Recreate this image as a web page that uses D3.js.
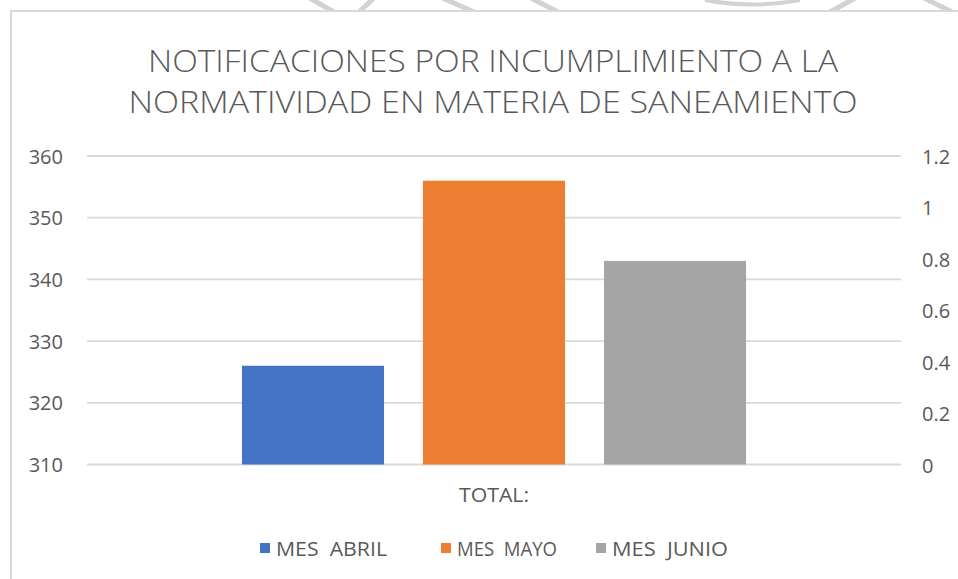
<!DOCTYPE html>
<html>
<head>
<meta charset="utf-8">
<script src="https://cdn.jsdelivr.net/npm/d3@7"></script>
<style>
  html, body { margin: 0; padding: 0; background: #fff; }
  svg { display: block; }
  text { font-family: "Open Sans", "Liberation Sans", sans-serif; fill: #595959; }
</style>
</head>
<body>
<svg id="chart" width="958" height="579"></svg>
<script>
// ---- data ----
const categories = ["TOTAL:"];
const seriesNames = ["MES  ABRIL", "MES  MAYO", "MES  JUNIO"];
const seriesValues = [326, 356, 343];
const seriesColors = ["#4472C4", "#ED7D31", "#A5A5A5"];
const leftTicks = [310, 320, 330, 340, 350, 360];
const rightTicks = [0, 0.2, 0.4, 0.6, 0.8, 1, 1.2];
const titleLines = ["NOTIFICACIONES POR INCUMPLIMIENTO A LA", "NORMATIVIDAD EN MATERIA DE SANEAMIENTO"];

const svg = d3.select("#chart");
const W = 958, H = 579;
const plot = { left: 87, right: 901, top: 156, bottom: 464.5 };

// faint watermark strokes above the chart frame
const marks = [
  [[306, -4], [334, 12]], [[376, -4], [359, 12]], [[438, -4], [474, 12]],
  [[527, -4], [558, 12]], [[859, -4], [830, 12]], [[920, -4], [952, 12]]
];
svg.append("g").selectAll("line").data(marks).join("line")
  .attr("x1", d => d[0][0]).attr("y1", d => d[0][1])
  .attr("x2", d => d[1][0]).attr("y2", d => d[1][1])
  .attr("stroke", "#d2d2d2").attr("stroke-width", 5);
svg.append("path")
  .attr("d", "M705,0 Q752,9 800,0")
  .attr("fill", "none").attr("stroke", "#d2d2d2").attr("stroke-width", 4);
svg.append("rect").attr("x", 0).attr("y", 10).attr("width", W).attr("height", H).attr("fill", "#fff");

// frame
svg.append("rect")
  .attr("x", 11).attr("y", 11).attr("width", W + 10).attr("height", H + 10)
  .attr("fill", "#fff").attr("stroke", "#d9d9d9").attr("stroke-width", 2);

// scales
const yL = d3.scaleLinear().domain([310, 360]).range([plot.bottom, plot.top]);
const yR = d3.scaleLinear().domain([0, 1.2]).range([plot.bottom + 0.5, plot.top + 0.5]);
const x0 = d3.scaleBand().domain(categories).range([plot.left, plot.right]);
const x1 = d3.scaleBand().domain(seriesNames).range([0, x0.bandwidth()])
  .paddingInner(0.215).paddingOuter(0.856);

// gridlines
svg.append("g").selectAll("line").data(leftTicks).join("line")
  .attr("x1", plot.left).attr("x2", plot.right)
  .attr("y1", d => yL(d)).attr("y2", d => yL(d))
  .attr("stroke", "#d9d9d9").attr("stroke-width", 1.8);

// left axis
const axL = svg.append("g").attr("transform", `translate(${63},0)`)
  .call(d3.axisLeft(yL).tickValues(leftTicks).tickSize(0).tickPadding(0).tickFormat(d3.format("d")));
axL.select(".domain").remove();
axL.selectAll("text").attr("font-size", 20).attr("fill", "#595959")
  .attr("font-family", "'Open Sans', sans-serif").attr("dy", "0.35em");

// right axis
const axR = svg.append("g").attr("transform", `translate(${922},0)`)
  .call(d3.axisRight(yR).tickValues(rightTicks).tickSize(0).tickPadding(0).tickFormat(d => String(+d.toFixed(1))));
axR.select(".domain").remove();
axR.selectAll("text").attr("font-size", 20).attr("fill", "#595959")
  .attr("font-family", "'Open Sans', sans-serif").attr("dy", "0.35em");

// bars
const gCat = svg.append("g").selectAll("g").data(categories).join("g")
  .attr("transform", d => `translate(${x0(d)},0)`);
gCat.selectAll("rect").data(seriesNames.map((s, i) => ({ s, v: seriesValues[i], c: seriesColors[i] })))
  .join("rect")
  .attr("x", d => x1(d.s)).attr("width", x1.bandwidth())
  .attr("y", d => yL(d.v)).attr("height", d => yL(310) - yL(d.v))
  .attr("fill", d => d.c);

// category label
svg.append("g").selectAll("text").data(categories).join("text")
  .attr("x", d => x0(d) + x0.bandwidth() / 2)
  .attr("y", 502).attr("text-anchor", "middle").attr("font-size", 20)
  .attr("textLength", 70).attr("lengthAdjust", "spacingAndGlyphs")
  .text(d => d);

// title
const titleW = [690, 729];
svg.append("g").selectAll("text").data(titleLines).join("text")
  .attr("x", 493).attr("y", (d, i) => 72 + i * 41)
  .attr("text-anchor", "middle").attr("font-size", 32).attr("font-weight", 300)
  .attr("textLength", (d, i) => titleW[i]).attr("lengthAdjust", "spacingAndGlyphs")
  .style("white-space", "pre")
  .text(d => d);

// legend
const legX = [260, 441, 596];
const legW = [111, 100, 116];
const leg = svg.append("g").selectAll("g").data(seriesNames).join("g")
  .attr("transform", (d, i) => `translate(${legX[i]},0)`);
leg.append("rect").attr("x", 0).attr("y", 543).attr("width", 10).attr("height", 10)
  .attr("fill", (d, i) => seriesColors[i]);
leg.append("text").attr("x", 16).attr("y", 556).attr("font-size", 20)
  .attr("textLength", (d, i) => legW[i]).attr("lengthAdjust", "spacingAndGlyphs")
  .style("white-space", "pre")
  .text(d => d);
</script>
</body>
</html>
